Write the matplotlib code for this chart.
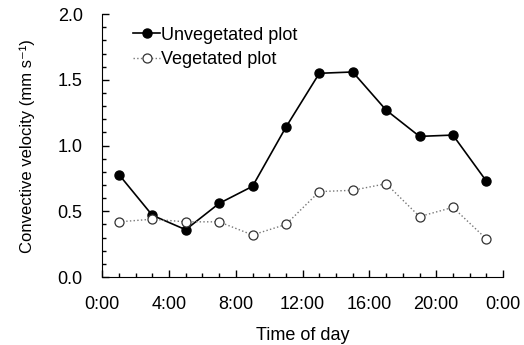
import matplotlib.pyplot as plt
from matplotlib.ticker import MultipleLocator

plt.rcParams['font.family'] = ['Liberation Sans', 'DejaVu Sans']

# hours of day
hours = [1, 3, 5, 7, 9, 11, 13, 15, 17, 19, 21, 23]
unveg = [0.78, 0.47, 0.36, 0.56, 0.69, 1.14, 1.55, 1.56, 1.27, 1.07, 1.08, 0.73]
veg = [0.42, 0.44, 0.42, 0.42, 0.32, 0.40, 0.65, 0.66, 0.71, 0.46, 0.53, 0.29]
xticks = [0, 4, 8, 12, 16, 20, 24]
xlabels = ['0:00', '4:00', '8:00', '12:00', '16:00', '20:00', '0:00']

fig = plt.figure(figsize=(5.24, 3.45), dpi=100)
ax = fig.add_axes([0.195, 0.197, 0.765, 0.762])

ax.plot(hours, unveg, color='black', lw=1.2, marker='o', ms=6.5,
        mfc='black', mec='black', label='Unvegetated plot')
ax.plot(hours, veg, color='#777777', lw=1.0, ls=':', marker='o', ms=6.5,
        mfc='white', mec='#333333', mew=0.9, label='Vegetated plot')

ax.set_xlim(0, 24)
ax.set_ylim(0, 2.0)
ax.set_xticks(xticks)
ax.set_xticklabels(xlabels)
ax.xaxis.set_minor_locator(MultipleLocator(1))
ax.yaxis.set_major_locator(MultipleLocator(0.5))
ax.yaxis.set_minor_locator(MultipleLocator(0.1))
ax.yaxis.set_major_formatter(plt.FormatStrFormatter('%.1f'))
ax.tick_params(which='both', direction='in', labelsize=13, width=1)
ax.tick_params(which='major', length=5)
ax.tick_params(which='minor', length=3)
ax.tick_params(axis='x', pad=14)
ax.tick_params(axis='y', pad=14)
for s in ['top', 'right']:
    ax.spines[s].set_visible(False)

ax.set_xlabel('Time of day', fontsize=13, labelpad=10)
ax.set_ylabel('Convective velocity (mm s\u207b\u00b9)', fontsize=12, labelpad=16)

ax.legend(loc='upper left', bbox_to_anchor=(0.06, 0.98), frameon=False,
          fontsize=13, handlelength=1.45, handletextpad=0.1, labelspacing=0.4,
          borderaxespad=0)

fig.savefig('out.png', dpi=100)
